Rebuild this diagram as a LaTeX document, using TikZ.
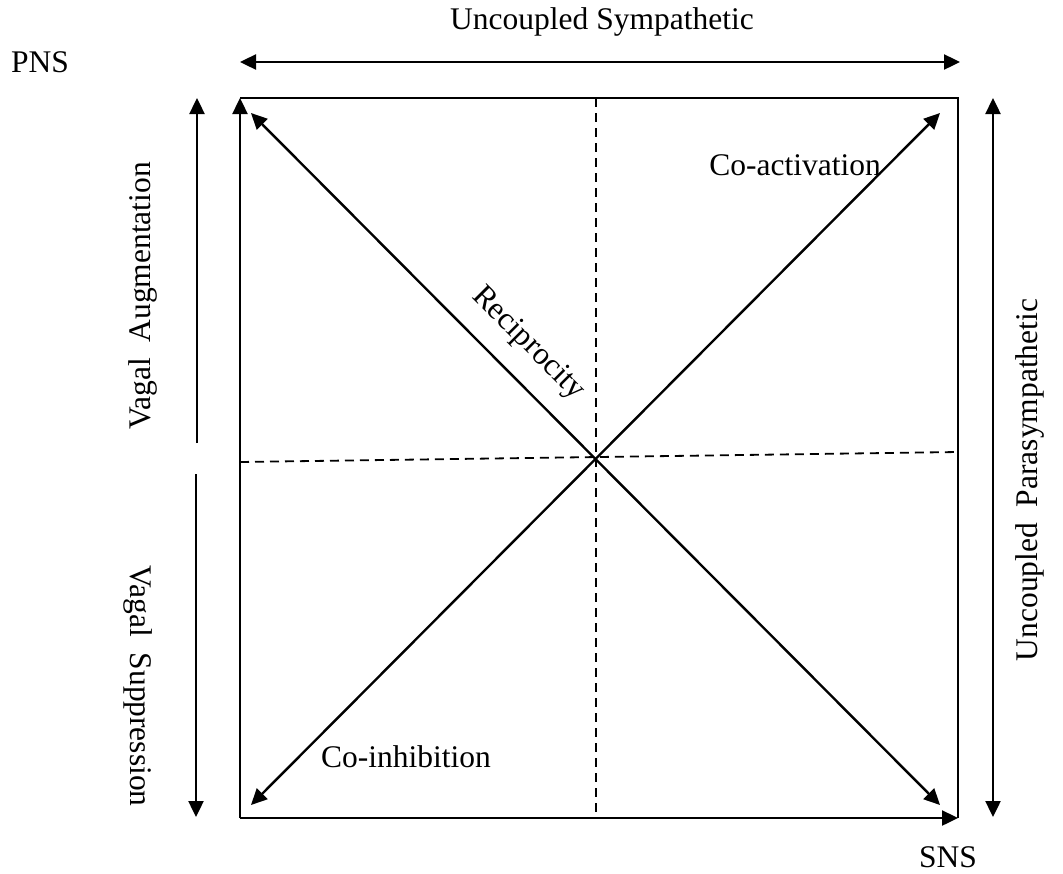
\documentclass[tikz,border=0pt]{standalone}
\usepackage{fontspec}
\setmainfont{Liberation Serif}
\usetikzlibrary{arrows.meta}
\begin{document}
\begin{tikzpicture}[x=1pt,y=-1pt,
  lbl/.style={inner sep=0pt,font=\fontsize{31.5}{36}\selectfont},
  ln/.style={line width=2.4pt},
  arr/.style={ln,-{Triangle[length=16pt,width=15pt]}},
  darr/.style={ln,{Triangle[length=16pt,width=15pt]}-{Triangle[length=16pt,width=15pt]}},
  dashln/.style={line width=1.8pt,dash pattern=on 9pt off 6pt}]
\useasboundingbox (0,0) rectangle (1063,873);
% corners
\coordinate (tl) at (240,98);
\coordinate (tr) at (958,98);
\coordinate (bl) at (240,818);
\coordinate (br) at (958,818);
\coordinate (c) at (596,458);
% box
\draw[arr] (bl) -- (tl);
\draw[arr] (bl) -- (br);
\draw[ln] (tl) -- (tr) -- (br);
% dashed
\coordinate (tm) at (596,98);
\coordinate (bm) at (596,818);
\coordinate (lm) at (240,462);
\coordinate (rm) at (958,452);
\draw[dashln] (tm) -- (bm);
\draw[dashln] (lm) -- (rm);
% diagonals
\coordinate (d1) at (251,113);
\coordinate (d2) at (940,805);
\coordinate (d3) at (251,805);
\coordinate (d4) at (940,113);
\draw[darr] (d1) -- (d2);
\draw[darr] (d3) -- (d4);
% top arrow
\coordinate (ta) at (240,62);
\coordinate (tb) at (960,62);
\draw[darr] (ta) -- (tb);
% left arrows
\coordinate (la1) at (197,443);
\coordinate (la2) at (197,98);
\coordinate (lb1) at (196,474);
\coordinate (lb2) at (196,817);
\draw[arr] (la1) -- (la2);
\draw[arr] (lb1) -- (lb2);
% right arrow
\coordinate (ra) at (993,98);
\coordinate (rb) at (993,817);
\draw[darr] (ra) -- (rb);
% labels
\node[lbl] (us) at (602,22) {Uncoupled Sympathetic};
\node[lbl] (pns) at (40,62) {PNS};
\node[lbl] (sns) at (948,857) {SNS};
\node[lbl] (coa) at (795,165) {Co-activation};
\node[lbl] (coi) at (406,757) {Co-inhibition};
\node[lbl,rotate=-45] (rec) at (528,344) {Reciprocity};
\node[lbl,rotate=90] (va) at (143,296) {Vagal\ \ Augmentation};
\node[lbl,rotate=-90] (vs) at (138,686) {Vagal\ \ Suppression};
\node[lbl,rotate=90] (up) at (1030,480) {Uncoupled\ \ Parasympathetic};
\end{tikzpicture}
\end{document}
